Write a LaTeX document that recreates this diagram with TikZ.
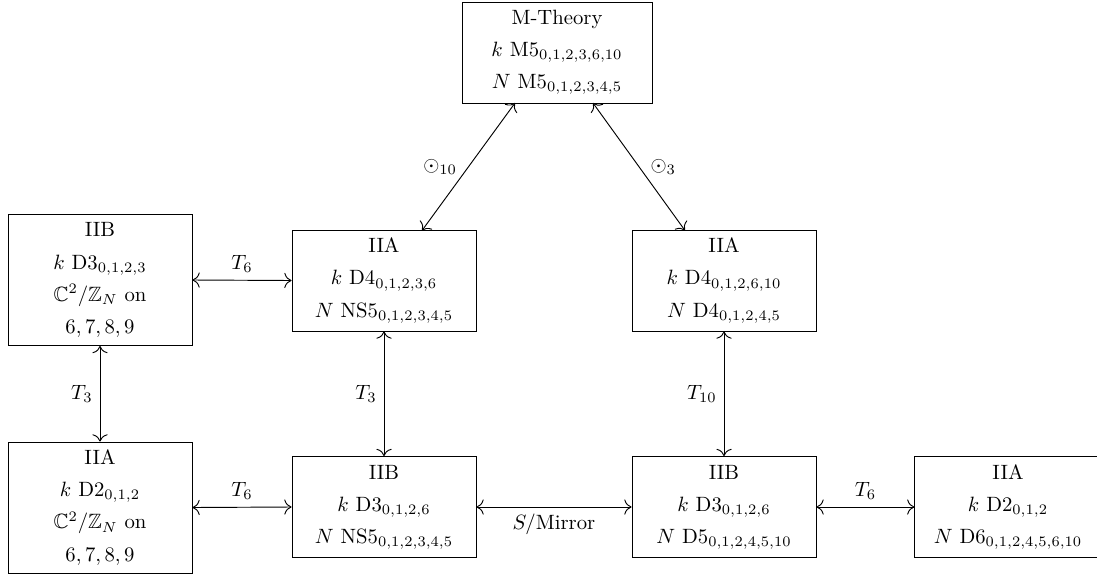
\documentclass[tikz,border=0pt]{standalone}
\usepackage{amssymb}
\usetikzlibrary{arrows.meta}
\begin{document}
\begin{tikzpicture}[x=0.483pt,y=-0.483pt,
  box/.style={draw, align=center, font=\fontsize{10}{15.5}\selectfont, minimum width=88.9pt, inner sep=2pt},
  tall/.style={minimum height=63.3pt},
  short/.style={minimum height=48.8pt},
  link/.style={{To[scale=1.35]}-{To[scale=1.35]}, line width=0.45pt}]
\useasboundingbox (0,0) rectangle (1097,576);
\node[box, short, minimum width=91.8pt] (mt) at (557,52.5) {M-Theory\\ $k$ M5$_{0,1,2,3,6,10}$\\ $N$ M5$_{0,1,2,3,4,5}$};
\node[box, tall] (b1) at (100,280) {IIB\\ $k$ D3$_{0,1,2,3}$\\ $\mathbb{C}^2/\mathbb{Z}_N$ on\\ $6,7,8,9$};
\node[box, short] (a1) at (384,280.5) {IIA\\ $k$ D4$_{0,1,2,3,6}$\\ $N$ NS5$_{0,1,2,3,4,5}$};
\node[box, short] (a2) at (724,280.5) {IIA\\ $k$ D4$_{0,1,2,6,10}$\\ $N$ D4$_{0,1,2,4,5}$};
\node[box, tall] (a3) at (100,507.5) {IIA\\ $k$ D2$_{0,1,2}$\\ $\mathbb{C}^2/\mathbb{Z}_N$ on\\ $6,7,8,9$};
\node[box, short] (b2) at (384,507) {IIB\\ $k$ D3$_{0,1,2,6}$\\ $N$ NS5$_{0,1,2,3,4,5}$};
\node[box, short] (b3) at (724,507) {IIB\\ $k$ D3$_{0,1,2,6}$\\ $N$ D5$_{0,1,2,4,5,10}$};
\node[box, short, minimum width=90pt] (a4) at (1008,507) {IIA\\ $k$ D2$_{0,1,2}$\\ $N$ D6$_{0,1,2,4,5,6,10}$};
\coordinate (mtl) at (515,103);
\coordinate (mtr) at (593,103);
\coordinate (a1t) at (422,230.5);
\coordinate (a2t) at (685,230.5);
\draw[link] (mtl) -- node[midway, left, xshift=-2pt] {$\odot_{10}$} (a1t);
\draw[link] (mtr) -- node[midway, right, xshift=2pt] {$\odot_{3}$} (a2t);
\draw[link] (b1.east) -- node[above] {$T_6$} (a1.west);
\draw[link] (b1.south) -- node[left] {$T_3$} (a3.north);
\draw[link] (a1.south) -- node[left] {$T_3$} (b2.north);
\draw[link] (a2.south) -- node[left] {$T_{10}$} (b3.north);
\draw[link] (a3.east) -- node[above] {$T_6$} (b2.west);
\draw[link] (b2.east) -- node[below] {$S/$Mirror} (b3.west);
\draw[link] (b3.east) -- node[above] {$T_6$} (a4.west);
\end{tikzpicture}
\end{document}
